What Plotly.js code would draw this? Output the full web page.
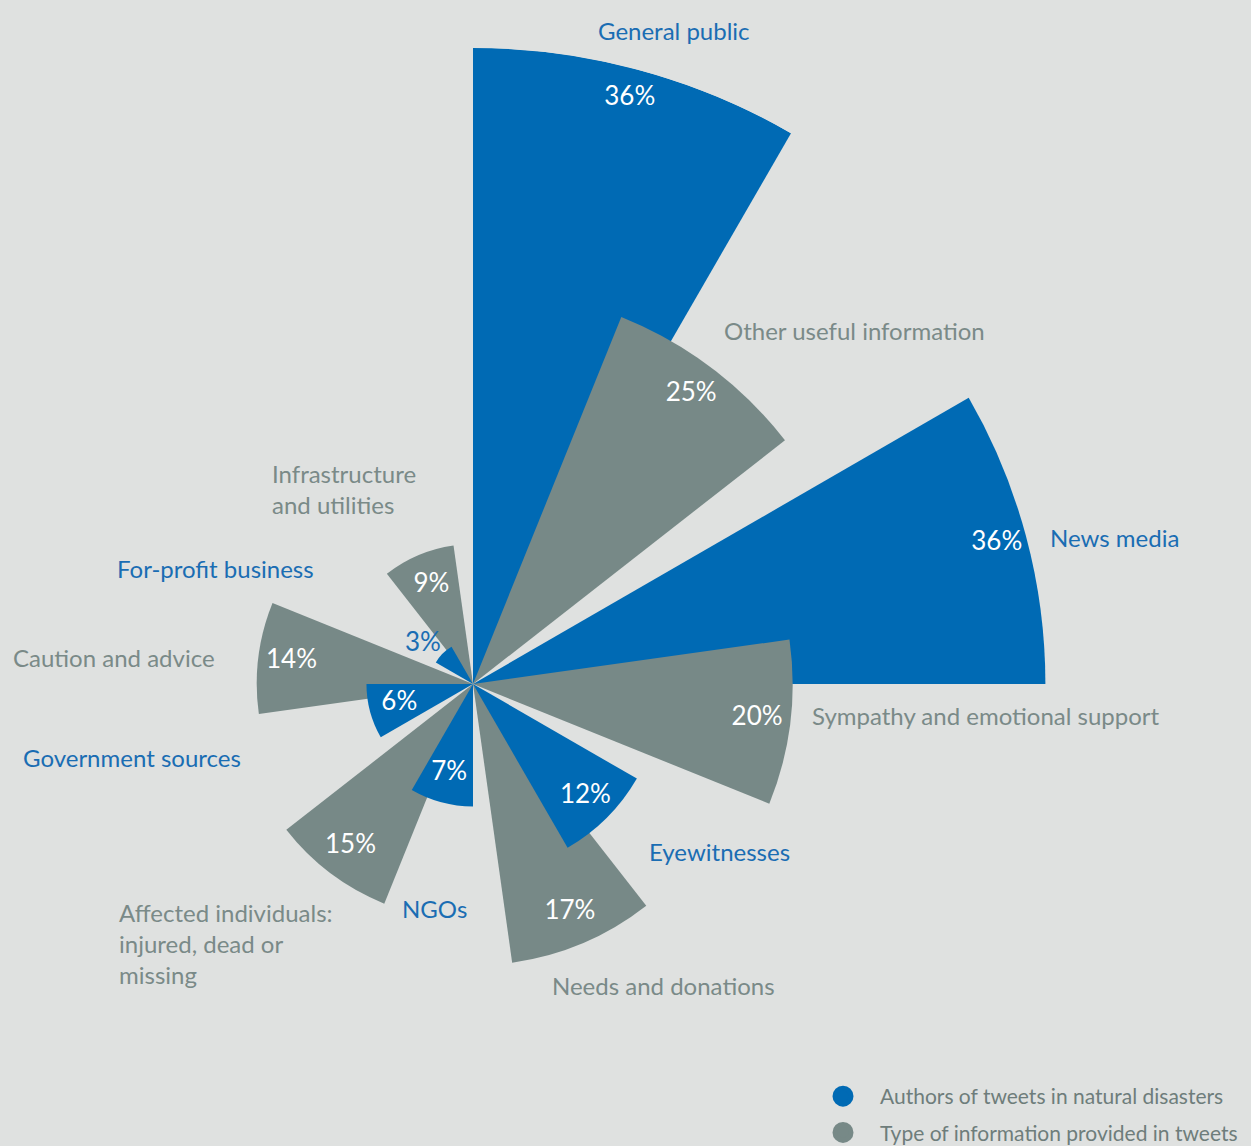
<!DOCTYPE html>
<html>
<head>
<meta charset="utf-8">
<script src="https://cdn.plot.ly/plotly-3.0.1.min.js"></script>
<style>
  html, body { margin: 0; padding: 0; width: 1251px; height: 1146px; overflow: hidden; background: #dfe1e0; }
  #chart { position: absolute; left: -200px; top: 0; width: 1500px; height: 1400px; }
</style>
</head>
<body>
<div id="chart"></div>
<script>
// ---------------- DATA ----------------
const authorCategories = ['General public', 'News media', 'Eyewitnesses', 'NGOs', 'Government sources', 'For-profit business'];
const authorShares = [36, 36, 12, 7, 6, 3];                 // printed percentages
const authorBarLengths = [40, 36, 11.9, 7.7, 6.7, 2.7];     // bar lengths as drawn in the picture

const infoCategories = ['Other useful information', 'Sympathy and emotional support', 'Needs and donations',
  'Affected individuals:<br>injured, dead or<br>missing', 'Caution and advice', 'Infrastructure<br>and utilities'];
const infoShares = [25, 20, 17, 15, 14, 9];
const infoBarLengths = [24.9, 20.1, 17.7, 14.9, 13.6, 8.8];

const legendNames = ['Authors of tweets in natural disasters', 'Type of information provided in tweets'];

// ---------------- STYLE / LAYOUT ----------------
const BLUE = '#006ab4', GRAY = '#778987', BG = '#dfe1e0';
const BLUE_TXT = '#1a6db3', GRAY_TXT = '#7a8a88';
const FONT = 'Lato, "Open Sans", sans-serif';
const W = 1500, H = 1400, OX = 200;           // plot canvas is larger than the page, shifted left by OX
const px = x => (x + OX) / W;                 // page pixel -> paper x
const py = y => 1 - y / H;                    // page pixel -> paper y
const CX = 473, CY = 684, RPX = 636, RMAX = 40;

const authorTheta = authorCategories.map((_, i) => 15 + 60 * i);
const infoTheta = infoCategories.map((_, i) => 37 + 60 * i);

function pick(arr, idx) { return idx.map(i => arr[i]); }
const bigIdx = authorBarLengths.map((v, i) => i).filter(i => authorBarLengths[i] >= 30);
const smallIdx = authorBarLengths.map((v, i) => i).filter(i => authorBarLengths[i] < 30);

const barCommon = { type: 'barpolar', width: 30, showlegend: false, hoverinfo: 'skip' };

const traces = [
  Object.assign({}, barCommon, { r: pick(authorBarLengths, bigIdx), theta: pick(authorTheta, bigIdx), marker: { color: BLUE, line: { width: 0 } } }),
  Object.assign({}, barCommon, { r: infoBarLengths, theta: infoTheta, marker: { color: GRAY, line: { width: 0 } } }),
  Object.assign({}, barCommon, { r: pick(authorBarLengths, smallIdx), theta: pick(authorTheta, smallIdx), marker: { color: BLUE, line: { width: 0 } } }),
  {
    type: 'scatterpolar', mode: 'text', showlegend: false, hoverinfo: 'skip',
    r: authorBarLengths.map(v => v >= 5 ? v - 1.9 : v + 1.3),
    theta: authorTheta.map((t, i) => authorBarLengths[i] >= 5 ? t : t - 7),
    text: authorShares.map(v => v + '%'),
    textfont: { family: FONT, size: 26, color: authorBarLengths.map(v => v >= 5 ? '#ffffff' : BLUE_TXT) }
  },
  {
    type: 'scatterpolar', mode: 'text', showlegend: false, hoverinfo: 'skip',
    r: infoBarLengths.map(v => v - 2.1),
    theta: infoTheta,
    text: infoShares.map(v => v + '%'),
    textfont: { family: FONT, size: 26, color: '#ffffff' }
  },
  { type: 'scatterpolar', mode: 'markers', r: [null], theta: [null], name: legendNames[0], legendgroup: 'a', showlegend: true,
    marker: { color: BLUE, size: 16, line: { color: BLUE, width: 5 } } },
  { type: 'scatterpolar', mode: 'markers', r: [null], theta: [null], name: legendNames[1], legendgroup: 'b', showlegend: true,
    marker: { color: GRAY, size: 16, line: { color: GRAY, width: 5 } } }
];

// category label placement (page pixels: left x, vertical middle y)
const authorLabelPos = [[596, 30], [1048, 537], [647, 851], [400, 909], [21, 757], [115, 568]];
const infoLabelPos = [[722, 330], [810, 715], [550, 985], [117, 943], [11, 657], [270, 489]];

const annotations = [];
authorCategories.forEach((c, i) => annotations.push({
  xref: 'paper', yref: 'paper', x: px(authorLabelPos[i][0]), y: py(authorLabelPos[i][1]),
  xanchor: 'left', yanchor: 'middle', align: 'left', showarrow: false, text: c,
  font: { family: FONT, size: 24, color: BLUE_TXT }
}));
infoCategories.forEach((c, i) => annotations.push({
  xref: 'paper', yref: 'paper', x: px(infoLabelPos[i][0]), y: py(infoLabelPos[i][1]),
  xanchor: 'left', yanchor: 'middle', align: 'left', showarrow: false, text: c,
  font: { family: FONT, size: 24, color: GRAY_TXT }
}));

const layout = {
  width: W, height: H,
  margin: { l: 0, r: 0, t: 0, b: 0, pad: 0 },
  paper_bgcolor: BG, plot_bgcolor: BG,
  font: { family: FONT },
  showlegend: true,
  legend: {
    x: px(806), y: py(1076), xanchor: 'left', yanchor: 'top',
    bgcolor: 'rgba(0,0,0,0)', font: { family: FONT, size: 21, color: '#6e7d7b' },
    itemwidth: 64, traceorder: 'grouped', tracegroupgap: 6
  },
  polar: {
    domain: { x: [px(CX - RPX), px(CX + RPX)], y: [py(CY + RPX), py(CY - RPX)] },
    bgcolor: 'rgba(0,0,0,0)',
    barmode: 'overlay',
    radialaxis: { range: [0, RMAX], visible: false, showgrid: false, showline: false, showticklabels: false, ticks: '' },
    angularaxis: { rotation: 90, direction: 'clockwise', visible: false, showgrid: false, showline: false, showticklabels: false, ticks: '' }
  },
  annotations: annotations
};

Plotly.newPlot('chart', traces, layout, { displayModeBar: false, staticPlot: true });
</script>
</body>
</html>
